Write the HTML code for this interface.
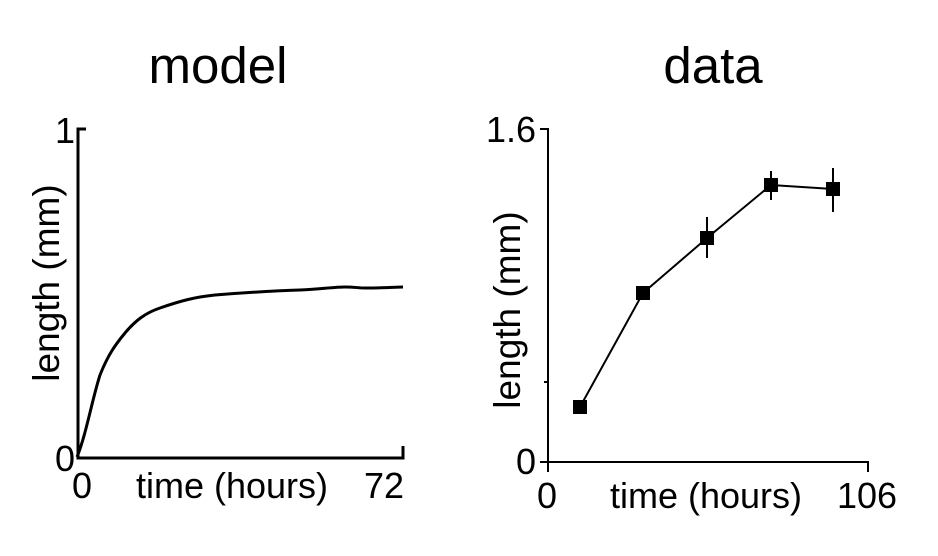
<!DOCTYPE html>
<html><head><style>body{margin:0;background:#fff}svg{display:block}text{font-family:"Liberation Sans",Arial,sans-serif;fill:#000}</style></head>
<body>
<svg width="938" height="556" viewBox="0 0 938 556">
<text x="218" y="83" font-size="51" text-anchor="middle">model</text>
<text x="713" y="83" font-size="51" text-anchor="middle">data</text>
<!-- left -->
<path d="M86 129 H78 V458 H403 V446" fill="none" stroke="#000" stroke-width="3"/>
<path d="M77 457 C86 435 92 400 100 375 C108 355 115 345 125 333 C135 321 145 313 160 308 C180 301 195 297 215 295 C240 293 270 291 300 290 C320 289 335 287 345 287 C355 287 358 288 365 288 C385 288 395 287 403 287" fill="none" stroke="#000" stroke-width="3"/>
<text x="75" y="143" font-size="36" text-anchor="end">1</text>
<text x="75" y="471" font-size="36" text-anchor="end">0</text>
<text x="82" y="498" font-size="36" text-anchor="middle">0</text>
<text x="232" y="498" font-size="36" text-anchor="middle">time (hours)</text>
<text x="384" y="498" font-size="36" text-anchor="middle">72</text>
<text transform="translate(59,283) rotate(-90)" font-size="37" text-anchor="middle">length (mm)</text>
<!-- right -->
<path d="M540 129 H548 V472 M540 462 H868 V472 M544 382 H548" fill="none" stroke="#000" stroke-width="2"/>
<polyline points="580,407 643,293 707,238 771,185 833,189" fill="none" stroke="#000" stroke-width="2"/>
<path d="M707 217 V258 M771 171 V200 M833 168 V212" stroke="#000" stroke-width="2"/>
<g fill="#000"><rect x="573" y="400" width="14" height="14"/><rect x="636" y="286" width="14" height="14"/><rect x="700" y="231" width="14" height="14"/><rect x="764" y="178" width="14" height="14"/><rect x="826" y="182" width="14" height="14"/></g>
<text x="536" y="142" font-size="36" text-anchor="end">1.6</text>
<text x="536" y="474" font-size="36" text-anchor="end">0</text>
<text x="547" y="508" font-size="36" text-anchor="middle">0</text>
<text x="706" y="508" font-size="36" text-anchor="middle">time (hours)</text>
<text x="867" y="508" font-size="36" text-anchor="middle">106</text>
<text transform="translate(520,310) rotate(-90)" font-size="37" text-anchor="middle">length (mm)</text>
</svg>
</body></html>
